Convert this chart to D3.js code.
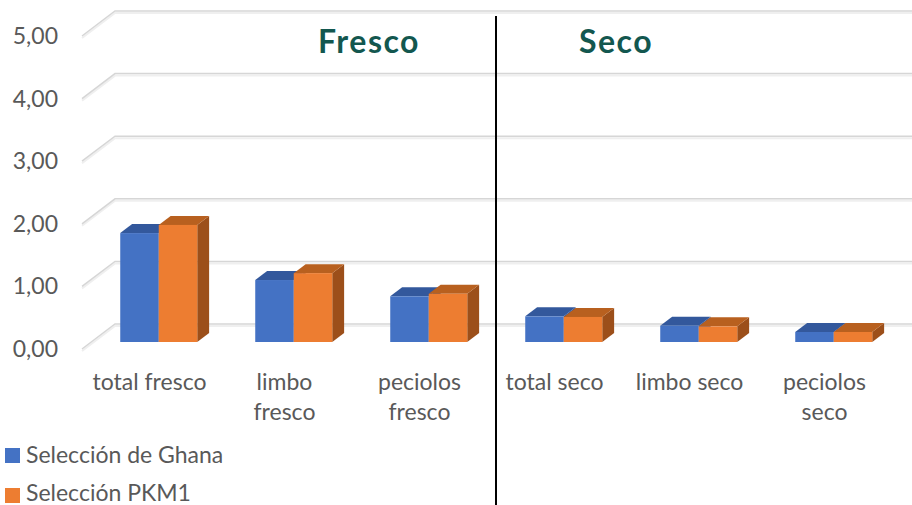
<!DOCTYPE html>
<html>
<head>
<meta charset="utf-8">
<script src="https://cdn.jsdelivr.net/npm/d3@7"></script>
<style>
  body { margin: 0; background: #fff; }
  svg { display: block; font-family: Lato, "Liberation Sans", sans-serif; }
</style>
</head>
<body>
<svg id="chart" width="912" height="505"></svg>
<script>
// data
var categories = ['total fresco', 'limbo fresco', 'peciolos fresco', 'total seco', 'limbo seco', 'peciolos seco'];
var categoryLines = [['total fresco'], ['limbo', 'fresco'], ['peciolos', 'fresco'], ['total seco'], ['limbo seco'], ['peciolos', 'seco']];
var ghana = [1.74, 0.99, 0.73, 0.41, 0.26, 0.16];
var pkm1 = [1.87, 1.10, 0.77, 0.40, 0.25, 0.16];
var seriesNames = ['Selección de Ghana', 'Selección PKM1'];
var yTicks = [0, 1, 2, 3, 4, 5];
var sectionTitles = ['Fresco', 'Seco'];

var svg = d3.select('#chart');

// 3d box: depth 0 = front, 1 = back wall
var depthX = 33, depthY = 25;
var x = d3.scaleBand().domain(categories).range([82, 892]);
var yFront = d3.scaleLinear().domain([0, 5]).range([349, 36]);
var series = d3.scaleBand().domain(seriesNames)
  .range([(x.step() - 77) / 2, (x.step() + 77) / 2]);
var fmt = d3.formatLocale({decimal: ',', thousands: '.', grouping: [3], currency: ['', '']}).format('.2f');

function px(xf, z) { return xf + depthX * z; }
function py(v, z) { return yFront(v) - depthY * z; }

var colors = {
  'Selección de Ghana': {front: '#4472c4', top: '#33589c', side: '#2f5597'},
  'Selección PKM1': {front: '#ed7d31', top: '#b8601f', side: '#9c4f1a'}
};

// gridlines: left wall slant + back wall
var grid = svg.append('g');
yTicks.forEach(function(t) {
  var pts = [[px(x.range()[0], 0), py(t, 0)], [px(x.range()[0], 1), py(t, 1)], [960, py(t, 1)]];
  grid.append('path')
    .attr('d', d3.line()(pts.map(function(p) { return [p[0], p[1] + 2]; })))
    .attr('fill', 'none').attr('stroke', '#efefef').attr('stroke-width', 2);
  grid.append('path')
    .attr('d', d3.line()(pts))
    .attr('fill', 'none').attr('stroke', '#d6d6d6').attr('stroke-width', 1.5);
});

// y labels
svg.append('g').selectAll('text')
  .data(yTicks).join('text')
  .attr('x', 58).attr('y', function(d) { return yFront(d); })
  .attr('dy', '0.35em')
  .attr('text-anchor', 'end')
  .attr('font-size', 23).attr('fill', '#595959')
  .text(function(d) { return fmt(d); });

// bars
var z0 = 0.28, z1 = 0.64;
var bars = svg.append('g');
categories.forEach(function(c, i) {
  [ghana, pkm1].forEach(function(vals, s) {
    var name = seriesNames[s];
    var v = vals[i];
    var xl = px(x(c) + series(name), z0);
    var xr = xl + series.bandwidth();
    var dx = depthX * (z1 - z0), dy = depthY * (z1 - z0);
    var yb = py(0, z0), yt = py(v, z0);
    var col = colors[name];
    // side
    bars.append('path')
      .attr('d', d3.line()([[xr, yb], [xr + dx, yb - dy], [xr + dx, yt - dy], [xr, yt]]) + 'Z')
      .attr('fill', col.side);
    // top
    bars.append('path')
      .attr('d', d3.line()([[xl, yt], [xl + dx, yt - dy], [xr + dx, yt - dy], [xr, yt]]) + 'Z')
      .attr('fill', col.top);
    // front
    bars.append('rect')
      .attr('x', xl).attr('y', yt)
      .attr('width', series.bandwidth()).attr('height', yb - yt)
      .attr('fill', col.front);
  });
});

// x labels
var xl = svg.append('g');
categories.forEach(function(c, i) {
  var t = xl.append('text')
    .attr('text-anchor', 'middle')
    .attr('font-size', 23).attr('fill', '#595959');
  categoryLines[i].forEach(function(line, j) {
    t.append('tspan')
      .attr('x', x(c) + x.bandwidth() / 2)
      .attr('y', 390 + j * 30)
      .text(line);
  });
});

// section titles and divider
svg.append('text').attr('x', 318).attr('y', 53)
  .attr('font-size', 32).attr('font-weight', 'bold').attr('fill', '#13574f')
  .attr('letter-spacing', 1.5)
  .text(sectionTitles[0]);
svg.append('text').attr('x', 579).attr('y', 53)
  .attr('font-size', 32).attr('font-weight', 'bold').attr('fill', '#13574f')
  .attr('letter-spacing', 1.5)
  .text(sectionTitles[1]);
svg.append('line')
  .attr('x1', 496).attr('x2', 496).attr('y1', 16).attr('y2', 505)
  .attr('stroke', '#000').attr('stroke-width', 2);

// legend
var legend = svg.append('g');
seriesNames.forEach(function(n, i) {
  legend.append('rect')
    .attr('x', 5).attr('y', 448 + i * 40)
    .attr('width', 15).attr('height', 15)
    .attr('fill', colors[n].front);
  legend.append('text')
    .attr('x', 26).attr('y', 463 + i * 38)
    .attr('font-size', 23).attr('fill', '#595959')
    .text(n);
});
</script>
</body>
</html>
